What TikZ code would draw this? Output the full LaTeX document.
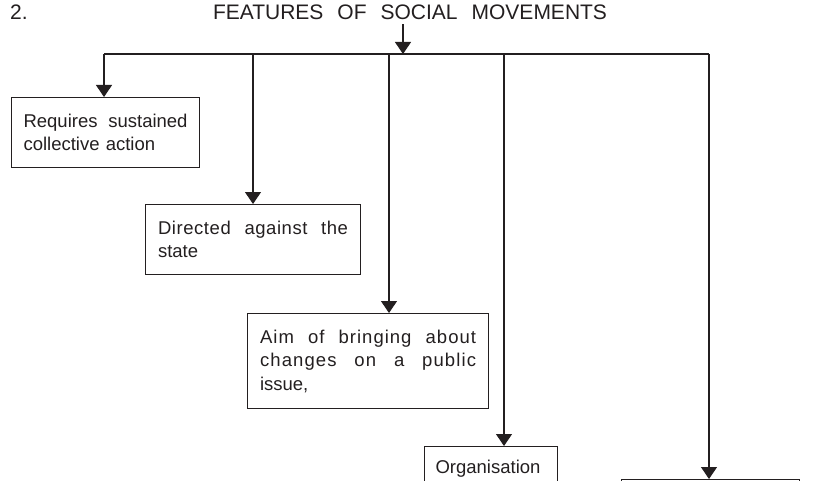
\documentclass[tikz,border=0pt]{standalone}
\usepackage{fontspec}
\setmainfont{Liberation Sans}
\usetikzlibrary{arrows.meta}
\definecolor{ink}{HTML}{231F20}
\newcommand{\spread}[3]{\makebox[#1]{\addfontfeature{LetterSpace=#2}#3}}
\begin{document}
\begin{tikzpicture}[x=1pt,y=-1pt,
  every node/.style={text=ink},
  box/.style={draw=ink,line width=1.1pt,anchor=north west,inner ysep=0pt,align=left,
    font=\fontsize{18.5}{23.5}\selectfont},
  ln/.style={draw=ink,line width=1.1pt},
  arr/.style={ln,-{Triangle[width=16pt,length=12pt]},fill=ink}]
\clip (0,0) rectangle (818,481);
\fill[white] (0,0) rectangle (818,481);
% heading
\node[anchor=base west,inner sep=0pt,font=\fontsize{21}{24}\selectfont] (num) at (10,20) {2.};
\node[anchor=base,inner sep=4pt,font=\fontsize{21}{24}\selectfont] (title) at (410,20)
  {\makebox[394pt]{FEATURES\hfill OF\hfill SOCIAL\hfill MOVEMENTS}};
% boxes
\node[box,inner xsep=12pt,text width=164pt,minimum height=70pt] (r1) at (11,97)
  {\spread{164pt}{0}{Requires\hfill sustained}\\collective action};
\node[box,inner xsep=12.5pt,text width=190pt,minimum height=70pt] (r2) at (145,204)
  {\spread{190pt}{3}{Directed\hfill against\hfill the}\\state};
\node[box,inner xsep=12.5pt,text width=216pt,minimum height=95pt] (r3) at (247,313)
  {\spread{216pt}{5.5}{Aim\hfill of\hfill bringing\hfill about}\\\spread{216pt}{6}{changes\hfill on\hfill a\hfill public}\\issue,};
\node[box,inner xsep=11pt,text width=111pt,minimum height=45pt] (r4) at (424,446)
  {Organisation};
\node[box,inner xsep=0pt,text width=178pt,minimum height=40pt] (r5) at (621,479) {};
% connectors
\coordinate (b1) at (104,54);
\coordinate (b2) at (253,54);
\coordinate (b3) at (389,54);
\coordinate (b4) at (504,54);
\coordinate (b5) at (709,54);
\coordinate (top) at (403,54);
\draw[ln] (b1) -- (b5);
\draw[arr] (title.south -| top) -- (top);
\draw[arr] (b1) -- (b1 |- r1.north);
\draw[arr] (b2) -- (b2 |- r2.north);
\draw[arr] (b3) -- (b3 |- r3.north);
\draw[arr] (b4) -- (b4 |- r4.north);
\draw[arr] (b5) -- (b5 |- r5.north);
\end{tikzpicture}
\end{document}
